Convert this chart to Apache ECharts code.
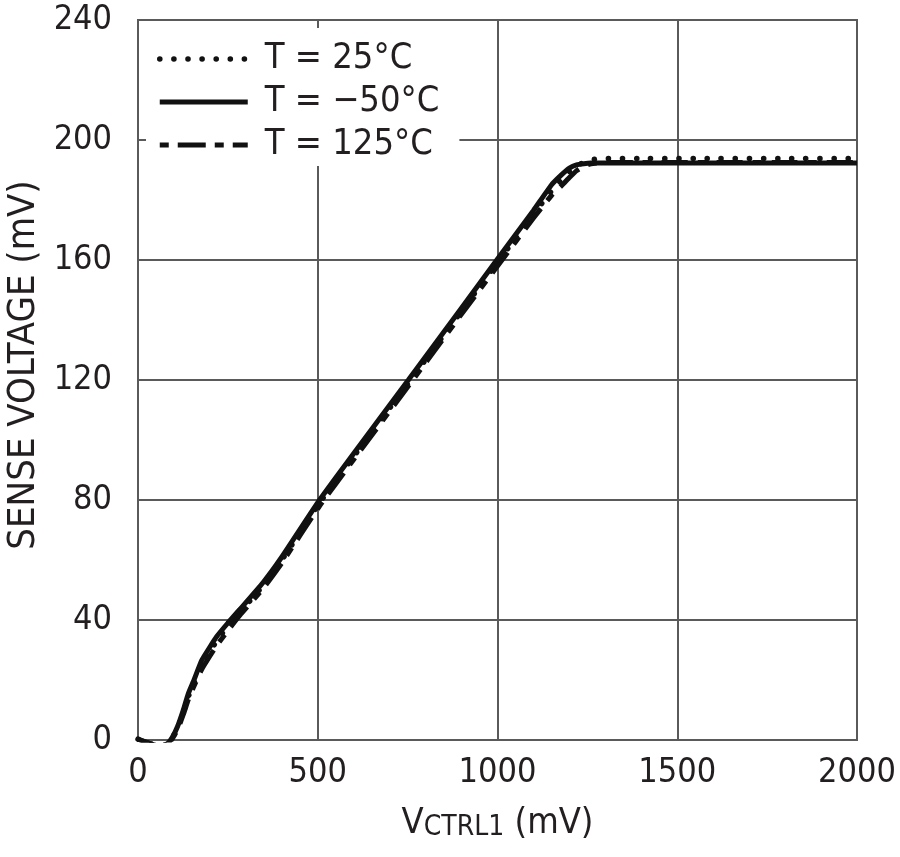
<!DOCTYPE html>
<html>
<head>
<meta charset="utf-8">
<script src="https://cdn.jsdelivr.net/npm/echarts@6/dist/echarts.min.js"></script>
<style>
html,body{margin:0;padding:0;background:#fff;}
#chart{width:900px;height:857px;}
</style>
</head>
<body>
<div id="chart"></div>
<script>
// VCTRL1 (mV) sample points
var vctrl = [0, 20, 40, 60, 80, 95, 110, 126, 140, 154, 177, 200, 219, 250, 283, 348, 400, 505, 600, 752, 900, 1000, 1100, 1150, 1180, 1200, 1220, 1240, 1260, 1280, 1300, 1400, 1600, 1800, 2000];
// Sense voltage (mV) per temperature
var t25 = [0.3, -0.6, -1.5, -2.0, -1.4, 0.6, 4.0, 9.2, 14.5, 18.5, 25.0, 29.5, 33.0, 38.0, 42.5, 51.5, 60.0, 79.0, 94.5, 119.0, 143.0, 159.2, 175.2, 183.0, 187.0, 189.5, 191.3, 192.6, 193.4, 193.7, 193.8, 193.8, 193.8, 193.8, 193.8];
var tm50 = [0.3, -0.6, -1.5, -2.0, -1.4, 0.8, 4.5, 10.0, 15.5, 19.5, 26.5, 31.0, 34.5, 39.0, 43.5, 52.5, 61.0, 80.0, 95.5, 120.0, 144.0, 160.3, 176.5, 185.0, 188.6, 190.6, 191.7, 192.1, 192.3, 192.3, 192.3, 192.3, 192.3, 192.3, 192.3];
var t125 = [0.3, -0.6, -1.5, -2.0, -1.4, 0.3, 3.5, 8.5, 13.5, 17.5, 23.5, 28.0, 31.5, 36.5, 41.5, 50.5, 59.0, 78.0, 93.5, 118.0, 142.0, 158.0, 174.0, 181.5, 185.0, 187.5, 189.8, 191.3, 192.1, 192.4, 192.5, 192.5, 192.5, 192.5, 192.5];
var seriesNames = ['T = 25°C', 'T = \u221250°C', 'T = 125°C'];
var xTicks = [0, 500, 1000, 1500, 2000];
var yTicks = [0, 40, 80, 120, 160, 200, 240];

function pairs(xs, ys) { return xs.map(function (x, i) { return [x, ys[i]]; }); }

var FONT = "'Liberation Sans Narrow', 'Arial Narrow', 'DejaVu Sans Condensed', 'Liberation Sans', sans-serif";
var TXT = '#231f20';
var GRIDC = '#5a5a5a';
var LINEC = '#111111';
var dotStyle = {color: LINEC, width: 5.5, type: [0.1, 14], cap: 'round'};
var solidStyle = {color: LINEC, width: 5, type: 'solid'};
var dashStyle = {color: LINEC, width: 5, type: [26, 10, 9, 10]};

var chart = echarts.init(document.getElementById('chart'), null, {renderer: 'canvas'});
chart.setOption({
  animation: false,
  backgroundColor: '#fff',
  grid: {left: 138, right: 43, top: 20, bottom: 117, containLabel: false, outerBoundsMode: 'none',
         show: true, borderColor: GRIDC, borderWidth: 2, backgroundColor: 'transparent'},
  legend: {
    data: [
      {name: seriesNames[0], lineStyle: dotStyle},
      {name: seriesNames[1], lineStyle: solidStyle},
      {name: seriesNames[2], lineStyle: {color: LINEC, width: 5, type: [9, 9, 28, 9], dashOffset: 0}}
    ],
    orient: 'vertical',
    left: 146, top: 28,
    padding: [12, 20, 2, 11],
    backgroundColor: '#fff',
    itemWidth: 88, itemHeight: 14, itemGap: 5,
    itemStyle: {opacity: 0, borderWidth: 0},
    textStyle: {fontFamily: FONT, fontSize: 36, color: TXT, lineHeight: 38, padding: [0, 0, 0, 12]},
    z: 4
  },
  xAxis: {
    type: 'value', min: xTicks[0], max: xTicks[xTicks.length - 1], interval: 500,
    name: '{v|V}{s|CTRL1}{v| (mV)}', nameLocation: 'middle', nameGap: 66,
    nameTextStyle: {rich: {v: {fontFamily: FONT, fontSize: 36, color: TXT}, s: {fontFamily: FONT, fontSize: 28, color: TXT, verticalAlign: 'bottom'}}},
    axisLine: {show: true, lineStyle: {color: GRIDC, width: 2}},
    axisTick: {show: true, inside: true, length: 8, lineStyle: {color: GRIDC, width: 2}},
    splitLine: {show: true, lineStyle: {color: GRIDC, width: 2}},
    axisLabel: {fontFamily: FONT, fontSize: 34, color: TXT, margin: 16, formatter: function (v) { return String(v); }}
  },
  yAxis: {
    type: 'value', min: yTicks[0], max: yTicks[yTicks.length - 1], interval: 40,
    name: 'SENSE VOLTAGE (mV)', nameLocation: 'middle', nameGap: 94,
    nameTextStyle: {fontFamily: FONT, fontSize: 38, color: TXT, padding: [0, 0, 0, 30]},
    axisLine: {show: true, lineStyle: {color: GRIDC, width: 2}},
    axisTick: {show: true, inside: true, length: 8, lineStyle: {color: GRIDC, width: 2}},
    splitLine: {show: true, lineStyle: {color: GRIDC, width: 2}},
    axisLabel: {fontFamily: FONT, fontSize: 34, color: TXT, margin: 26, formatter: function (v) { return String(v); }}
  },
  series: [
    {name: seriesNames[2], type: 'line', data: pairs(vctrl, t125), showSymbol: false, symbol: 'none', smooth: 0.15,
     lineStyle: dashStyle, itemStyle: {color: LINEC}, z: 3},
    {name: seriesNames[0], type: 'line', data: pairs(vctrl, t25), showSymbol: false, symbol: 'none', smooth: 0.15,
     lineStyle: dotStyle, itemStyle: {color: LINEC}, z: 3},
    {name: seriesNames[1], type: 'line', data: pairs(vctrl, tm50), showSymbol: false, symbol: 'none', smooth: 0.15,
     lineStyle: solidStyle, itemStyle: {color: LINEC}, z: 3}
  ]
});
</script>
</body>
</html>
